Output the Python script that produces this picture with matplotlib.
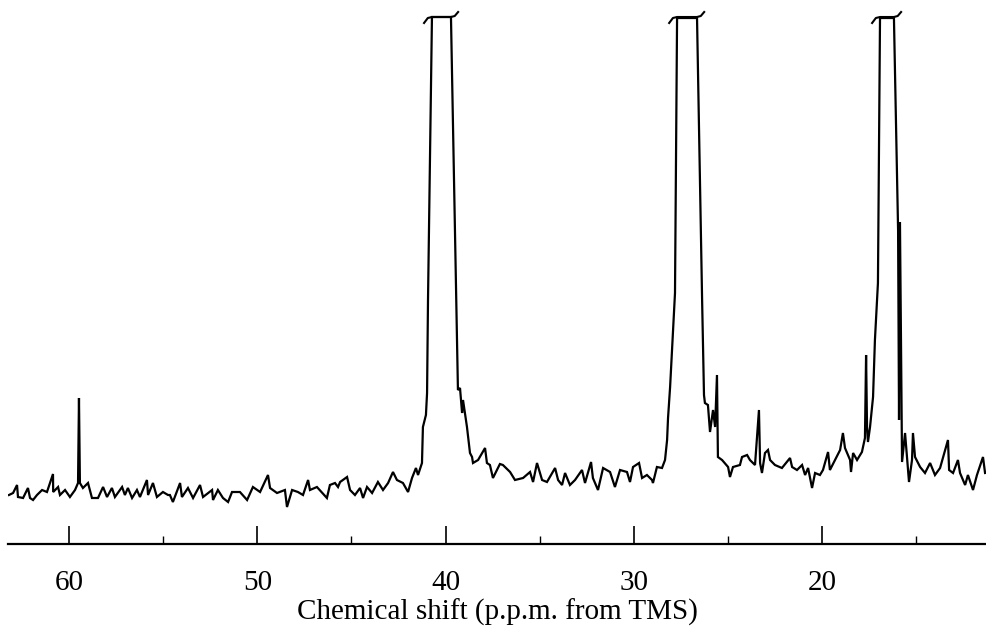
import matplotlib
matplotlib.use("Agg")
import matplotlib.pyplot as plt

# 13C spectrum: shift (ppm) and trace height (arb. units)
shift = [
    # baseline 63-54 ppm, with the small line near 59.5
    63.19, 62.97, 62.76, 62.71, 62.44, 62.23, 62.18, 62.07, 61.91, 61.70,
    61.43, 61.17, 60.85, 60.84, 60.58, 60.48, 60.21, 59.95, 59.68, 59.52,
    59.47, 59.42, 59.26, 58.99, 58.78, 58.46, 58.19, 57.98, 57.72, 57.56,
    57.18, 57.03, 56.87, 56.65, 56.39, 56.23, 55.86, 55.80, 55.54, 55.33,
    55.01, 54.74,
    # baseline 54-45.7 ppm
    54.64, 54.48, 54.10, 54.00, 53.68, 53.41, 53.04, 52.88, 52.40, 52.35,
    52.09, 51.82, 51.55, 51.34, 50.92, 50.54, 50.23, 49.85, 49.43, 49.32,
    48.95, 48.53, 48.42, 48.15, 47.84, 47.57, 47.30, 47.20, 46.83, 46.30,
    46.14, 45.87, 45.71,
    # rise into the 40 ppm peak and down the other side
    45.60, 45.23, 45.07, 44.81, 44.54, 44.38, 44.17, 43.90, 43.59, 43.32,
    43.05, 42.79, 42.58, 42.26, 41.99, 41.78, 41.57, 41.46, 41.25, 41.20,
    41.04, 40.98, 40.93, 40.72, 39.71, 39.34, 39.23, 39.12, 39.07, 38.86,
    38.70, 38.59, 38.54, 38.27, 37.90, 37.80, 37.64, 37.48, 37.11,
    # baseline 37-28.5 ppm
    36.95, 36.57, 36.31, 35.88, 35.51, 35.35, 35.14, 34.87, 34.61, 34.18,
    34.02, 33.81, 33.65, 33.39, 33.12, 32.75, 32.59, 32.27, 32.17, 31.90,
    31.63, 31.26, 31.00, 30.73, 30.36, 30.20, 30.04, 29.72, 29.56, 29.30,
    29.03, 28.98, 28.77, 28.50, 28.34, 28.23, 28.18,
    # the 27 ppm peak and the shoulder after it
    28.07, 27.81, 27.70, 26.64, 26.37, 26.27, 26.22, 26.06, 25.95, 25.79,
    25.68, 25.58, 25.53, 25.31, 24.99, 24.89, 24.73, 24.36, 24.25, 23.98,
    23.83, 23.56, 23.35, 23.29, 23.19, 23.03, 22.87, 22.76, 22.50, 22.13,
    21.70, 21.59, 21.33, 21.06, 20.90, 20.74, 20.53, 20.37, 20.11,
    # rise into the 16 ppm peak and the tail to 11 ppm
    19.95, 19.68, 19.58, 19.31, 19.04, 18.89, 18.78, 18.51, 18.46, 18.35,
    18.14, 17.88, 17.72, 17.66, 17.61, 17.56, 17.45, 17.29, 17.19, 17.03,
    16.92, 16.18, 15.96, 15.91, 15.86, 15.75, 15.59, 15.38, 15.22, 15.17,
    15.06, 14.79, 14.53, 14.26, 14.00, 13.73, 13.31, 13.25, 13.04, 12.78,
    12.67, 12.40, 12.25, 11.98, 11.77, 11.45, 11.34,
]
signal = [
    49, 51, 59, 47, 46, 54, 56, 46, 44, 49,
    54, 52, 70, 52, 57, 49, 54, 47, 54, 61,
    146, 61, 56, 61, 46, 46, 57, 47, 56, 47,
    57, 49, 56, 46, 54, 47, 64, 49, 61, 47,
    52, 49,
    49, 42, 61, 47, 56, 46, 59, 47, 54, 44,
    54, 46, 42, 52, 52, 44, 57, 52, 69, 56,
    51, 54, 37, 54, 52, 49, 64, 54, 57, 46,
    59, 61, 57,
    62, 67, 54, 49, 56, 46, 57, 51, 62, 54,
    61, 72, 64, 61, 52, 66, 76, 69, 81, 117,
    129, 151, 244, 527, 527, 154, 156, 131, 144, 117,
    91, 87, 81, 84, 96, 81, 79, 66, 80,
    79, 72, 64, 66, 72, 62, 81, 64, 62, 76,
    64, 59, 71, 59, 64, 74, 61, 82, 66, 54,
    76, 72, 57, 74, 72, 62, 77, 81, 66, 69,
    64, 61, 77, 76, 84, 104, 126,
    157, 251, 526, 526, 244, 149, 141, 139, 112, 134,
    117, 169, 87, 84, 77, 67, 77, 79, 87, 89,
    84, 79, 134, 81, 71, 91, 94, 84, 79, 76,
    86, 77, 74, 79, 69, 76, 56, 71, 69,
    74, 92, 74, 84, 94, 111, 96, 84, 72, 91,
    84, 92, 106, 189, 117, 102, 117, 147, 204, 261,
    526, 526, 314, 124, 322, 82, 111, 62, 84, 111,
    87, 77, 71, 81, 69, 76, 104, 74, 71, 84,
    71, 59, 69, 54, 69, 87, 71,
]

# the three off-scale peaks: ppm of the left and right wall at the cut-off
peak_left = [40.72, 27.70, 16.92]
peak_right = [39.71, 26.64, 16.18]
cut_level = 527

major_ticks = [60, 50, 40, 30, 20]
minor_ticks = [55, 45, 35, 25, 15]

plt.rcParams["font.family"] = ["Liberation Serif", "DejaVu Serif"]

fig = plt.figure(figsize=(9.86, 6.27), dpi=100)
ax = fig.add_axes([8 / 986, 83 / 627, 978 / 986, 544 / 627])

ax.plot(shift, signal, color="black", lw=1.6, solid_joinstyle="miter")

# "~" break marks drawn across the tops of the clipped peaks
for left, right in zip(peak_left, peak_right):
    cx = [left + 0.42, left + 0.22, left, right, right - 0.2, right - 0.38]
    cy = [cut_level - 6, cut_level - 1, cut_level, cut_level, cut_level + 1, cut_level + 5]
    ax.plot(cx, cy, color="black", lw=1.5)

ax.set_xlim(63.24, 11.29)
ax.set_ylim(0, 544)

for side in ["left", "right", "top"]:
    ax.spines[side].set_visible(False)
ax.spines["bottom"].set_linewidth(1.6)
ax.set_yticks([])

ax.set_xticks(major_ticks)
ax.set_xticks(minor_ticks, minor=True)
ax.tick_params(axis="x", which="major", direction="in", length=13, width=1.2,
               pad=19, labelsize=21)
ax.tick_params(axis="x", which="minor", direction="in", length=6, width=1.0)
ax.set_xlabel("Chemical shift (p.p.m. from TMS)", fontsize=21, labelpad=2)

fig.savefig("out.png", dpi=100)
